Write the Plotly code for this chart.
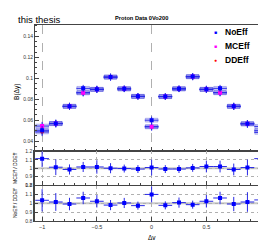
import plotly.graph_objects as go

# ---------------- data ----------------
dy = [-1.0, -0.875, -0.75, -0.625, -0.5, -0.375, -0.25, -0.125, 0.0,
      0.125, 0.25, 0.375, 0.5, 0.625, 0.75, 0.875, 1.0]
bin_half = [0.0625] * 17

b_noeff = [0.0504, 0.0569, 0.0733, 0.0904, 0.0895, 0.1012, 0.0900, 0.0828, 0.0600,
           0.0826, 0.0900, 0.1016, 0.0895, 0.0904, 0.0733, 0.0566, 0.0504]
b_mceff = [0.0544, 0.0569, 0.0733, 0.0863, 0.0895, 0.1012, 0.0900, 0.0828, 0.0538,
           0.0826, 0.0900, 0.1016, 0.0895, 0.0863, 0.0733, 0.0566, 0.0541]
b_ddeff = [0.0488, 0.0566, 0.0731, 0.0860, 0.0893, 0.1010, 0.0898, 0.0826, 0.0536,
           0.0824, 0.0898, 0.1013, 0.0893, 0.0861, 0.0731, 0.0564, 0.0484]
b_stat = [0.0040, 0.0035, 0.0033, 0.0033, 0.0033, 0.0032, 0.0030, 0.0030, 0.0035,
          0.0030, 0.0030, 0.0032, 0.0033, 0.0033, 0.0033, 0.0035, 0.0040]
b_sys = [0.0018] * 17
sys_width = 0.115

ratio_mc = [1.114, 1.012, 0.985, 1.015, 1.015, 1.000, 0.996, 0.990, 1.008,
            0.990, 0.990, 1.004, 1.020, 1.020, 0.985, 1.008, 1.114]
ratio_mc_err = [0.100, 0.094, 0.060, 0.060, 0.080, 0.060, 0.047, 0.047, 0.094,
                0.047, 0.047, 0.047, 0.070, 0.070, 0.070, 0.094, 0.100]
ratio_no = [1.034, 1.015, 0.992, 1.060, 1.023, 0.980, 1.004, 0.974, 1.100,
            0.977, 1.008, 0.985, 1.023, 1.060, 0.992, 1.015, 1.038]
ratio_no_err = [0.125, 0.100, 0.070, 0.070, 0.070, 0.057, 0.057, 0.045, 0.090,
                0.045, 0.057, 0.045, 0.070, 0.070, 0.080, 0.110, 0.125]
ratio_mc_sys = [0.0] * 16 + [0.11]
ratio_no_sys = [0.0] * 16 + [0.135]
ratio_sys_width = 0.03

x_ticks = [-1, -0.5, 0, 0.5, 1]
x_tick_text = ["\u22121", "\u22120.5", "0", "0.5", "1"]
top_grid_x = [-1, 0, 1]
top_ticks = [0.04, 0.06, 0.08, 0.1, 0.12, 0.14]
top_tick_text = ["0.04", "0.06", "0.08", "0.1", "0.12", "0.14"]
ratio_ticks = [0.8, 0.9, 1.0, 1.1, 1.2]
ratio_tick_text = ["0.8", "0.9", "1", "1.1", "1.2"]

BLUE = "rgb(0,0,255)"
MAG = "rgb(255,0,255)"
RED = "rgb(255,0,0)"
ERRBLUE = "rgb(40,40,230)"
BOXFILL = "rgba(120,120,230,0.30)"
BOXLINE = "rgba(70,70,220,0.7)"
FONT = "Liberation Sans, Arial, sans-serif"

fig = go.Figure()


def sys_boxes(vals, sys, width, xa, ya):
    fig.add_trace(go.Bar(
        x=dy, y=[2 * s for s in sys], base=[v - s for v, s in zip(vals, sys)],
        width=width, marker=dict(color=BOXFILL, line=dict(color=BOXLINE, width=0.5)),
        xaxis=xa, yaxis=ya, showlegend=False, hoverinfo="skip"))


def points(vals, err, mcolor, ecolor, symbol, size, xa, ya, name):
    fig.add_trace(go.Scatter(
        x=dy, y=vals, mode="markers", name=name,
        marker=dict(color=mcolor, symbol=symbol, size=size, line=dict(width=0)),
        error_y=dict(type="data", array=err, color=ecolor, thickness=1, width=0),
        error_x=dict(type="data", array=bin_half, color=ecolor, thickness=1, width=0),
        xaxis=xa, yaxis=ya, showlegend=False))


# top panel
sys_boxes(b_ddeff, b_sys, sys_width, "x", "y")
sys_boxes(b_mceff, b_sys, sys_width, "x", "y")
sys_boxes(b_noeff, b_sys, sys_width, "x", "y")
points(b_ddeff, b_stat, RED, ERRBLUE, "circle", 3.5, "x", "y", "DDEff")
points(b_mceff, b_stat, MAG, ERRBLUE, "square", 4, "x", "y", "MCEff")
points(b_noeff, b_stat, BLUE, ERRBLUE, "square", 4, "x", "y", "NoEff")

# ratio panels
sys_boxes(ratio_mc, ratio_mc_sys, ratio_sys_width, "x2", "y2")
points(ratio_mc, ratio_mc_err, BLUE, ERRBLUE, "square", 4, "x2", "y2", "MCEff/DDEff")
sys_boxes(ratio_no, ratio_no_sys, ratio_sys_width, "x3", "y3")
points(ratio_no, ratio_no_err, BLUE, ERRBLUE, "square", 4, "x3", "y3", "NoEff/DDEff")

W, H = 266, 240
xdom = [27 / W, 261 / W]
xr = [-1.065, 1.072]

common_x = dict(domain=xdom, range=xr, showline=True, mirror=True, linecolor="#444",
                linewidth=1, ticks="inside", ticklen=4, tickcolor="#444",
                tickvals=x_ticks, ticktext=x_tick_text, zeroline=False,
                minor=dict(ticks="inside", ticklen=2, dtick=0.1, tickcolor="#444"))

tickfont = dict(family=FONT, size=5, color="#333")

fig.update_layout(
    width=W, height=H, margin=dict(l=0, r=0, t=0, b=0),
    paper_bgcolor="white", plot_bgcolor="white", barmode="overlay",
    showlegend=False,
    xaxis=dict(common_x, anchor="y", showticklabels=False, tickvals=top_grid_x,
               showgrid=True, gridcolor="#b0b0b0", griddash="dash", gridwidth=0.7),
    yaxis=dict(domain=[1 - 144 / H, 1 - 14 / H], range=[0.0302, 0.1512],
               showline=True, mirror=True, linecolor="#444", linewidth=1,
               ticks="inside", ticklen=4, tickcolor="#444",
               tickvals=top_ticks, ticktext=top_tick_text, tickfont=tickfont,
               minor=dict(ticks="inside", ticklen=2, dtick=0.005, tickcolor="#444"),
               showgrid=False, zeroline=False, anchor="x"),
    xaxis2=dict(common_x, anchor="y2", matches="x", showticklabels=False,
                showgrid=True, gridcolor="#b0b0b0", griddash="dot", gridwidth=0.7),
    yaxis2=dict(domain=[1 - 178.5 / H, 1 - 144 / H], range=[0.8, 1.2],
                showline=True, mirror=True, linecolor="#444", linewidth=1.5,
                ticks="inside", ticklen=3, tickcolor="#444",
                tickvals=ratio_ticks, ticktext=ratio_tick_text, tickfont=tickfont,
                showgrid=True, gridcolor="#b0b0b0", griddash="dot", gridwidth=0.7,
                zeroline=False, anchor="x2"),
    xaxis3=dict(common_x, anchor="y3", matches="x", showticklabels=True,
                tickfont=dict(family=FONT, size=5.5, color="#333"),
                showgrid=True, gridcolor="#b0b0b0", griddash="dot", gridwidth=0.7),
    yaxis3=dict(domain=[1 - 215.5 / H, 1 - 179 / H], range=[0.8, 1.2],
                showline=True, mirror=True, linecolor="#444", linewidth=1.5,
                ticks="inside", ticklen=3, tickcolor="#444",
                tickvals=ratio_ticks, ticktext=ratio_tick_text, tickfont=tickfont,
                showgrid=True, gridcolor="#b0b0b0", griddash="dot", gridwidth=0.7,
                zeroline=False, anchor="x3"),
)

# reference lines at ratio = 1
for xr_, yr_ in (("x2 domain", "y2"), ("x3 domain", "y3")):
    fig.add_shape(type="line", xref=xr_, yref=yr_, x0=0, x1=1, y0=1, y1=1,
                  line=dict(color="rgba(180,180,180,0.7)", width=2), layer="below")


def ann(text, x, y, size, bold=False, xanchor="center", color="black", angle=0):
    fig.add_annotation(text=f"<b>{text}</b>" if bold else text,
                       x=x / W, y=1 - y / H, xref="paper", yref="paper",
                       showarrow=False, xanchor=xanchor, yanchor="middle",
                       textangle=angle,
                       font=dict(family=FONT, size=size, color=color))


ann("this thesis", 8, 9, 9.5, xanchor="left")
ann("Proton Data 0Vo200", 133, 7, 5.7, bold=True)
ann("B(\u0394y)", 9, 83, 6.5, angle=-90)
ann("MCEff / DDEff", 7, 161, 5, angle=-90)
ann("NoEff / DDEff", 7, 197, 5, angle=-90)
ann("\u0394y", 143.5, 233, 6.5)

# legend
legend_names = ["NoEff", "MCEff", "DDEff"]
legend_colors = [BLUE, MAG, RED]
legend_glyphs = ["\u25a0", "\u25a0", "\u25cf"]
legend_y = [22, 36, 50]
for name, col, g, ly in zip(legend_names, legend_colors, legend_glyphs, legend_y):
    ann(g, 207, ly, 5, color=col)
    ann(name, 214.5, ly, 8.5, bold=True, xanchor="left")

fig.write_html("out.html")
